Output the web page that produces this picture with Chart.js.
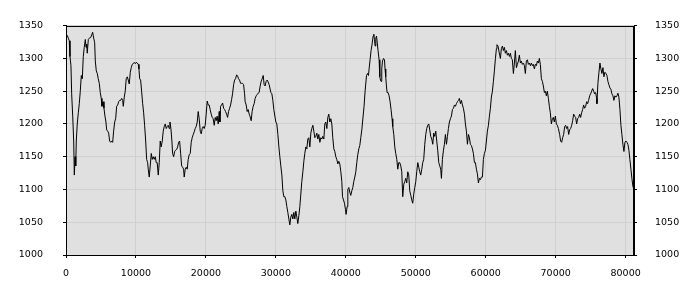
<!DOCTYPE html>
<html>
<head>
<meta charset="utf-8">
<script src="https://cdn.jsdelivr.net/npm/chart.js@4/dist/chart.umd.min.js"></script>
<style>
html,body{margin:0;padding:0;background:#fff;}
#wrap{width:700px;height:300px;}
</style>
</head>
<body>
<div id="wrap"><canvas id="c" width="700" height="300"></canvas></div>
<script>
// x positions of samples
const xValues = [
0,190,330,470,570,710,810,960,1100,1190,1290,1390,1470,1610,1760,1900,2040,2190,2330,2470,2610,2760,2860,2960,3040,3190,3330,3530,3670,3810,3960,4100,4190,4330,4470,4610,4760,4900,5040,5140,5290,5430,5570,5710,5810,5960,6100,6240,6390,6530,6670,6810,6960,7100,7240,7390,7530,7670,7810,7960,8100,8190,8330,8470,8610,8760,8900,9040,9190,9330,9470,9610,9760,9900,10040,10190,10330,10430,10530,10670,10810,10960,11100,11240,11390,11530,11670,11760,11900,12040,12190,12330,12470,12610,12760,12900,13040,13190,13330,13470,13610,13760,13900,14040,14190,14330,14470,14610,14760,
14860,15000,15140,15240,15390,15530,15670,15810,15960,16100,16240,16390,16530,16670,16810,16900,17040,17190,17330,17470,17610,17760,17900,18040,18190,18330,18470,18610,18760,18900,19040,19190,19330,19470,19610,19760,19900,20040,20190,20330,20470,20610,20760,20900,21040,21190,21330,21470,21610,21760,21900,22000,22100,22240,22390,22530,22670,22810,22960,23100,23240,23390,23530,23670,23810,23960,24100,24240,24390,24530,24670,24810,24960,25100,25240,25390,25530,25610,25760,25900,26040,26190,26330,26470,26610,26760,26900,27040,27190,27330,27470,27610,27760,27900,28040,28190,28330,28470,28610,28760,28900,29040,
29290,29430,29570,29710,29860,30000,30140,30290,30430,30570,30710,30860,31000,31140,31290,31430,31570,31710,31860,32000,32140,32290,32430,32570,32710,32860,33000,33140,33290,33430,33570,33710,33860,34000,34140,34290,34430,34570,34710,34860,35000,35140,35290,35430,35570,35710,35860,36000,36140,36290,36430,36570,36710,36860,37000,37140,37290,37430,37570,37710,37860,38000,38140,38290,38430,38570,38710,38860,39000,39140,39290,39430,39530,39670,39810,39960,40040,40190,40290,40430,40570,40710,40860,41000,41140,41290,41430,41570,41710,41860,42000,42140,42290,
42610,42760,42960,43100,43240,43330,43470,43610,43760,43900,44000,44100,44190,44290,44390,44470,44610,44760,44860,44960,45040,45140,45240,45390,45530,45610,45710,45810,45900,46040,46190,46330,46470,46610,46710,46860,47000,47140,47290,47430,47570,
47710,47860,48000,48140,48290,48430,48570,48710,48860,49000,49140,49290,49430,49570,49710,49860,50000,50140,50290,50430,50570,50710,50860,51000,51140,51290,51430,51570,51710,51860,52000,52140,52290,52430,52570,52710,52860,53000,53140,53290,53430,53570,53670,53810,53960,54100,54240,54390,54530,54670,54810,54960,55100,55240,55390,55530,55670,55810,55960,56100,56240,56390,56530,56670,56810,56960,57100,57240,57390,57530,57670,57810,57960,58100,58240,58390,58530,58670,58810,58960,59100,59240,59390,59530,59670,59810,59960,60100,60240,60390,60530,60670,60810,60960,61100,61240,61390,61530,61610,61760,61900,62000,62100,62240,62390,62530,62670,62810,62960,63100,63240,63390,63530,63670,63810,63960,64100,64240,64390,64530,64670,64810,64960,65100,65240,65390,65530,65670,65810,65960,66100,66240,66390,66530,66670,66810,66960,67100,67240,67390,67530,67670,67810,67960,68100,68240,68390,68530,68670,68810,68960,69100,69240,69390,69530,69670,69810,69960,70100,70240,70390,
70570,70710,70860,71000,71140,71290,71430,71570,71710,71860,72000,72140,72290,72430,72570,72710,72860,73000,73140,73290,73430,73570,73710,73860,74000,74140,74290,74430,74570,74710,74860,75000,75140,75290,75430,75570,75710,75860,75900,76040,76190,76330,76470,76610,76760,76900,77040,77190,77330,77470,77610,77760,77900,78040,78190,78330,78470,78610,78760,78900,79040,79190,79330,79470,79610,79760,79900,80040,80190,80330,80470,80610,80760,80900,81040,81150
];
// series values
const seriesValues = [
1331,1335,1331,1327,1303,1289,1246,1212,1174,1122,
1150,1136,1174,1200,1217,1231,1250,1274,1269,1303,
1317,1329,1317,1322,1308,1329,1331,1332,1336,1340,
1331,1324,1296,1281,1277,1269,1262,1248,1239,1227,
1234,1224,1212,1203,1191,1189,1186,1174,1172,1174,
1172,1189,1203,1208,1227,1229,1234,1236,1236,1239,
1236,1227,1241,1250,1269,1272,1267,1261,1279,1286,
1291,1292,1294,1292,1294,1293,1291,1284,1269,1267,
1250,1231,1217,1198,1174,1146,1141,1131,1119,1136,
1155,1146,1150,1146,1150,1141,1141,1122,1141,1174,
1165,1174,1189,1196,1200,1193,1196,1198,1193,
1203,1193,1174,1155,1150,1158,1160,1161,1165,1172,1174,
1155,1136,1134,1131,1119,1131,1134,1131,1146,1153,
1155,1172,1179,1184,1188,1193,1196,1203,1219,1208,
1189,1185,1193,1196,1193,1198,1215,1235,1229,1229,
1222,1215,1210,1208,1198,1210,1205,1212,1200,1219,
1203,1227,1229,1232,1224,1222,1219,1215,1210,1219,
1224,1229,1237,1246,1260,1267,1269,1275,1273,1269,
1267,1262,1262,1262,1260,1246,1234,1229,1219,1222,
1215,1211,1205,1219,1227,1231,1239,1243,1245,1247,
1248,1258,1265,1269,1274,1260,1258,1265,1267,1264,1260,
1248,1246,1236,1222,1212,1203,1200,1184,1165,
1150,1136,1122,1098,1089,1089,1084,1074,1065,1055,
1046,1058,1062,1055,1065,1055,1067,1058,1048,1060,
1074,1093,1112,1127,1143,1155,1165,1162,1177,1179,
1165,1186,1193,1198,1189,1179,1181,1186,1177,1184,
1172,1179,1177,1181,1177,1200,1203,1193,1210,1215,
1203,1208,1200,1179,1162,1158,1150,1146,1139,1143,
1139,1127,1112,1089,1084,1079,1069,1062,1074,1100,
1103,1096,1091,1098,1103,1112,1119,1127,1141,1153,
1162,1167,1179,1191,
1227,1250,1274,1277,1274,1284,
1298,1312,1322,1334,1337,1329,1319,1331,1334,1327,
1312,1298,1272,1267,1265,1284,1296,1300,1298,1284,
1272,1258,1248,1248,1243,1234,1222,1208,1196,
1184,1165,1155,1146,1131,1141,
1141,1136,1127,1089,1108,
1112,1117,1110,1127,1122,1098,1091,1084,1079,1093,
1103,1112,1127,1141,1134,1127,1122,1131,1141,1146,
1169,1184,1193,1198,1200,1191,1181,1177,1169,1186,
1181,1189,1174,1160,1141,1136,1131,1117,1146,1160,
1169,1184,1169,1181,1193,1203,1208,1212,1222,1224,
1229,1227,1231,1234,1236,1239,1231,1236,1229,1224,
1215,1200,1189,1169,1184,1179,1169,1167,1162,1155,
1141,1141,1131,1124,1110,1117,1115,1119,1119,1146,
1155,1160,1174,1189,1198,1212,1224,1241,1250,1265,
1281,1300,1315,1321,1319,1319,1305,1300,1315,1319,
1312,1317,1308,1312,1305,1308,1303,1308,1300,1298,
1277,1293,1312,1286,1291,1296,1305,1293,1296,1291,
1293,1289,1277,1296,1298,1291,1293,1289,1293,1289,
1291,1284,1291,1289,1296,1293,1300,1291,1269,1265,
1258,1248,1250,1243,1250,1239,1227,1217,1200,1208,
1210,1203,1212,1200,1198,1193,
1184,1174,1172,1179,
1184,1196,1198,1193,1196,1184,1191,1193,1198,1205,
1215,1212,1210,1200,1208,1210,1215,1210,1217,1222,
1229,1224,1227,1234,1231,1236,1243,1246,1250,1254,
1250,1246,1248,1239,1231,1262,1279,1293,1284,1277,
1286,1272,1279,1277,1274,1265,1260,1255,1253,1246,
1243,1236,1243,1241,1243,1247,1241,1222,1198,1184,
1169,1158,1172,1174,1172,1169,1160,1146,1131,1117,1105,
1101
];
const xTickValues = [0,10000,20000,30000,40000,50000,60000,70000,80000];
const yTickValues = [1000,1050,1100,1150,1200,1250,1300,1350];

const points = xValues.map((x, i) => ({x: x, y: seriesValues[i]}));

const frame = {
  id: 'frame',
  beforeDraw(chart) {
    const a = chart.chartArea, ctx = chart.ctx;
    ctx.save();
    ctx.fillStyle = '#e0e0e0';
    ctx.fillRect(a.left, a.top, a.right - a.left, a.bottom - a.top);
    ctx.restore();
  },
  afterDraw(chart) {
    const a = chart.chartArea, ctx = chart.ctx;
    ctx.save();
    ctx.strokeStyle = '#000';
    ctx.lineWidth = 1;
    ctx.strokeRect(Math.round(a.left) + 0.5, Math.round(a.top) + 0.5,
      Math.round(a.right - a.left) - 1, Math.round(a.bottom - a.top));
    ctx.restore();
  }
};

Chart.defaults.font.family = "'DejaVu Sans', sans-serif";
Chart.defaults.font.size = 9.5;
Chart.defaults.color = '#000';

const plain = v => String(v);

const yCommon = {
  type: 'linear',
  min: yTickValues[0],
  max: yTickValues[yTickValues.length - 1],
  afterBuildTicks(s) { s.ticks = yTickValues.map(v => ({value: v})); },
  border: {display: true, color: '#000', width: 1}
};

new Chart(document.getElementById('c'), {
  type: 'line',
  data: {
    datasets: [{
      data: points,
      borderColor: '#000',
      borderWidth: 1,
      pointRadius: 0,
      tension: 0,
      fill: false,
      yAxisID: 'y'
    }]
  },
  options: {
    responsive: false,
    animation: false,
    events: [],
    layout: {padding: {top: 10, left: 0, right: 0, bottom: 0}},
    plugins: {legend: {display: false}, tooltip: {enabled: false}},
    scales: {
      x: {
        type: 'linear',
        position: 'bottom',
        min: 0,
        max: 81200,
        afterBuildTicks(s) { s.ticks = xTickValues.map(v => ({value: v})); },
        ticks: {autoSkip: false, maxRotation: 0, padding: 10, callback: plain},
        grid: {color: '#d0d0d0', tickColor: '#000', tickLength: 3},
        border: {display: true, color: '#000', width: 1},
        afterFit(s) { s.height = 45; }
      },
      y: Object.assign({}, yCommon, {
        position: 'left',
        ticks: {padding: 20, callback: plain},
        grid: {color: '#d0d0d0', tickColor: '#000', tickLength: 3},
        afterFit(s) { s.width = 66; }
      }),
      y2: Object.assign({}, yCommon, {
        position: 'right',
        ticks: {padding: 18, callback: plain},
        grid: {drawOnChartArea: false, tickColor: '#000', tickLength: 3},
        afterFit(s) { s.width = 66; }
      })
    }
  },
  plugins: [frame]
});
</script>
</body>
</html>
